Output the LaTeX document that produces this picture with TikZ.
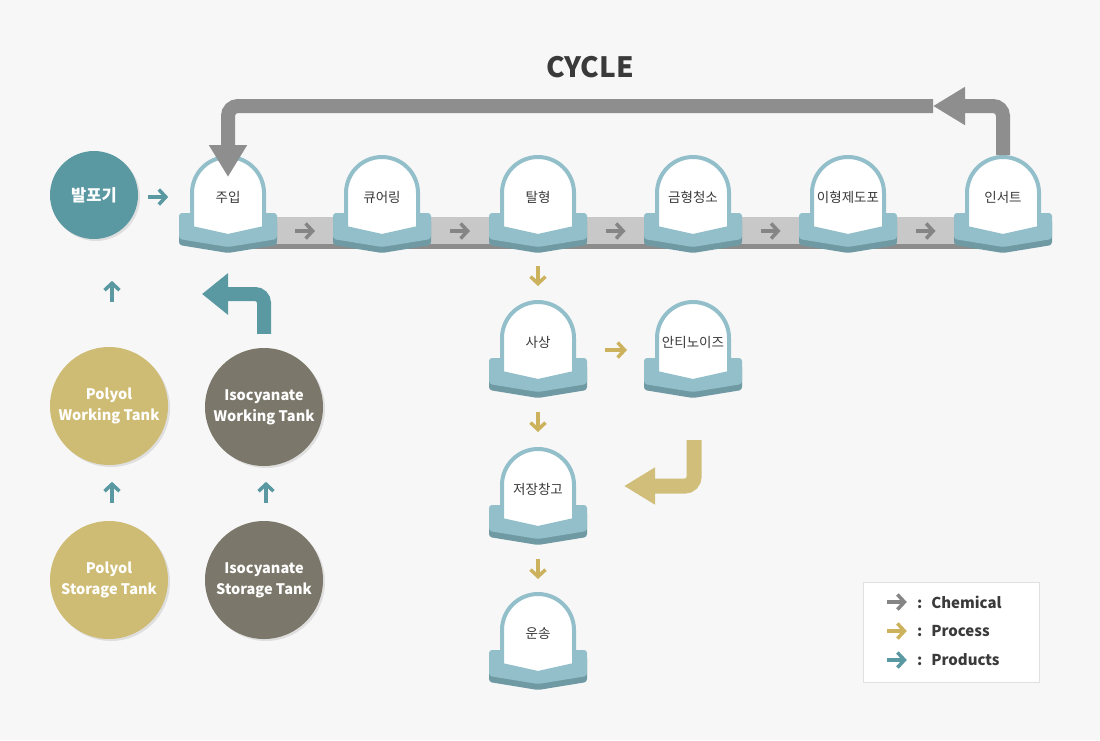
\documentclass[tikz,border=0pt]{standalone}
\usepackage{fontspec}
\setmainfont{Noto Sans CJK KR}
\usepackage{tikz}
\usetikzlibrary{shapes, arrows.meta, positioning, calc, shadows}
\definecolor{bgcol}{HTML}{F7F7F7}
\definecolor{stonecol}{HTML}{93BFCA}
\definecolor{stonedark}{HTML}{6F9AA3}
\definecolor{bandcol}{HTML}{C8C8C8}
\definecolor{banddark}{HTML}{8C8C8C}
\definecolor{chemcol}{HTML}{858585}
\definecolor{cyclecol}{HTML}{8E8E8E}
\definecolor{proccol}{HTML}{CDB25E}
\definecolor{procbendcol}{HTML}{D1BE7A}
\definecolor{prodcol}{HTML}{5A98A2}
\definecolor{polcol}{HTML}{CFBC74}
\definecolor{isocol}{HTML}{7B776A}
\definecolor{textcol}{HTML}{3A3A3A}
\tikzstyle{stonetext} = [text = textcol, font = \fontsize{13.5}{16}\selectfont, inner sep = 0pt]
\tikzstyle{tank} = [circle, minimum size = 118pt, inner sep = 0pt, text = white, align = center, font = \fontsize{14.5}{21}\selectfont\bfseries, drop shadow = {shadow xshift = 2pt, shadow yshift = -2pt, opacity = 0.2}]
\tikzstyle{small} = [line width = 3.5pt, -{Straight Barb[length = 7pt, width = 15pt]}]
\tikzstyle{chem} = [small, draw = chemcol]
\tikzstyle{proc} = [small, draw = proccol]
\tikzstyle{prod} = [small, draw = prodcol]
\tikzstyle{cycleline} = [draw = cyclecol, line width = 14pt, rounded corners = 10pt, -{Triangle[length = 32pt, width = 36pt]}]
\tikzstyle{prodbend} = [draw = prodcol, line width = 14pt, rounded corners = 9pt, -{Triangle[length = 26pt, width = 40pt]}]
\tikzstyle{procbend} = [draw = procbendcol, line width = 15pt, rounded corners = 9pt, -{Triangle[length = 31pt, width = 35pt]}]
\tikzstyle{legtext} = [text = textcol, font = \fontsize{15}{18}\selectfont\bfseries, inner sep = 0pt, anchor = west]
\tikzset{stone/.pic = {
	\fill[stonedark, rounded corners = 3pt] (-49,22) -- (49,22) -- (49,48) -- (0,56) -- (-49,48) -- cycle;
	\fill[stonecol, rounded corners = 3pt] (-49,16) -- (49,16) -- (49,42) -- (0,50) -- (-49,42) -- cycle;
	\draw[stonecol, fill = white, line width = 4pt] (-36,31) -- (-36,-4) arc[start angle = 180, end angle = 0, radius = 36pt] -- (36,31) -- (0,39) -- cycle;
}}
\newcommand{\stone}[3]{\pic at (#2) {stone}; \node[stonetext] (#1) at (#2) {#3};}
\begin{document}
\begin{tikzpicture}[x = 1pt, y = -1pt]
	\fill[bgcol] (0,0) rectangle (1100,740);
	% Place nodes
	\node[text = textcol, font = \fontsize{28}{30}\selectfont\bfseries] (cycletitle) at (590,67) {CYCLE};
	\fill[bandcol] (228,217) rectangle (1003,244);
	\fill[banddark] (228,244) rectangle (1003,249);
	\stone{inject}{228,197}{주입}
	\stone{cure}{382,197}{큐어링}
	\stone{demold}{538,197}{탈형}
	\stone{clean}{693,197}{금형청소}
	\stone{release}{848,197}{이형제도포}
	\stone{insert}{1003,197}{인서트}
	\stone{trim}{538,342}{사상}
	\stone{antinoise}{693,342}{안티노이즈}
	\stone{store}{538,489}{저장창고}
	\stone{ship}{538,634}{운송}
	\node[tank, fill = prodcol, minimum size = 88pt, font = \fontsize{16.5}{20}\selectfont\bfseries] (foam) at (94,195) {발포기};
	\node[tank, fill = polcol] (polwork) at (109,406) {Polyol\\Working Tank};
	\node[tank, fill = isocol] (isowork) at (264,407) {Isocyanate\\Working Tank};
	\node[tank, fill = polcol] (polstore) at (109,580) {Polyol\\Storage Tank};
	\node[tank, fill = isocol] (isostore) at (264,580) {Isocyanate\\Storage Tank};
	\coordinate (cycmid) at (933,106);
	\coordinate (isoret) at (202,294);
	\coordinate (storein) at (624,486);
	% Draw edges
	\draw[chem] ($(inject)!.5!(cure)+(-10,34)$) -- ++(20,0);
	\draw[chem] ($(cure)!.5!(demold)+(-10,34)$) -- ++(20,0);
	\draw[chem] ($(demold)!.5!(clean)+(-10,34)$) -- ++(20,0);
	\draw[chem] ($(clean)!.5!(release)+(-10,34)$) -- ++(20,0);
	\draw[chem] ($(release)!.5!(insert)+(-10,34)$) -- ++(20,0);
	\draw[cycleline] ($(insert)+(0,-42)$) |- (cycmid);
	\draw[cycleline] (cycmid) -| ($(inject)+(0,-20)$);
	\draw[proc] ($(demold)+(0,69)$) -- ++(0,20);
	\draw[proc] ($(trim)+(67,8)$) -- ++(22,0);
	\draw[proc] ($(trim)+(0,70)$) -- ++(0,20);
	\draw[proc] ($(store)+(0,70)$) -- ++(0,20);
	\draw[procbend] ($(antinoise)+(1,98)$) |- (storein);
	\draw[prod] ($(foam.east)+(10,2)$) -- ++(20,0);
	\draw[prod] ($(polwork.north)+(3,-45)$) -- ++(0,-21);
	\draw[prod] ($(polstore.north)+(3,-18)$) -- ++(0,-21);
	\draw[prod] ($(isostore.north)+(2,-18)$) -- ++(0,-21);
	\draw[prodbend] ($(isowork.north)+(0,-14)$) |- (isoret);
	% Legend
	\node[draw = black!12, fill = white, minimum width = 176pt, minimum height = 100pt, inner sep = 0pt] (legend) at (951,632) {};
	\draw[chem] ($(legend.west)+(24,-30)$) -- ++(20,0);
	\draw[proc] ($(legend.west)+(24,-1)$) -- ++(20,0);
	\draw[prod] ($(legend.west)+(24,28)$) -- ++(20,0);
	\node[legtext] (lchem) at ($(legend.west)+(54,-30)$) {:\hspace{9pt}Chemical};
	\node[legtext] (lproc) at ($(legend.west)+(54,-1)$) {:\hspace{9pt}Process};
	\node[legtext] (lprod) at ($(legend.west)+(54,28)$) {:\hspace{9pt}Products};
\end{tikzpicture}
\end{document}
